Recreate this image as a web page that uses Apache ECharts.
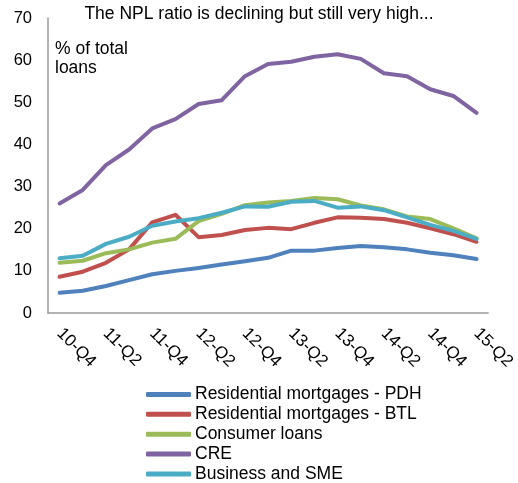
<!DOCTYPE html>
<html>
<head>
<meta charset="utf-8">
<script src="https://cdn.jsdelivr.net/npm/echarts@6/dist/echarts.min.js"></script>
<style>
  html, body { margin: 0; padding: 0; background: #fff; }
  #chart { width: 518px; height: 483px; }
</style>
</head>
<body>
<div id="chart"></div>
<script>
// Quarterly NPL ratios by loan type, % of total loans
const quarters = ['10-Q4','11-Q1','11-Q2','11-Q3','11-Q4','12-Q1','12-Q2','12-Q3','12-Q4','13-Q1',
                  '13-Q2','13-Q3','13-Q4','14-Q1','14-Q2','14-Q3','14-Q4','15-Q1','15-Q2'];
const residentialPDH = [4.8, 5.3, 6.4, 7.8, 9.2, 10.0, 10.7, 11.5, 12.3, 13.1, 14.8, 14.8, 15.4, 15.9, 15.6, 15.1, 14.3, 13.7, 12.8];
const residentialBTL = [8.6, 9.8, 11.9, 15.1, 21.5, 23.3, 18.0, 18.5, 19.7, 20.2, 19.9, 21.4, 22.7, 22.6, 22.3, 21.4, 20.1, 18.7, 16.9];
const consumerLoans  = [11.9, 12.4, 14.2, 15.1, 16.7, 17.6, 21.8, 23.5, 25.6, 26.2, 26.6, 27.3, 27.0, 25.5, 24.6, 22.9, 22.3, 20.1, 17.7];
const cre            = [26.0, 29.2, 35.1, 38.8, 43.8, 46.0, 49.6, 50.5, 56.2, 59.1, 59.6, 60.8, 61.4, 60.3, 56.9, 56.2, 53.1, 51.5, 47.5];
const businessSME    = [13.0, 13.6, 16.4, 18.1, 20.7, 21.7, 22.5, 23.8, 25.3, 25.2, 26.4, 26.6, 25.0, 25.3, 24.4, 22.7, 20.9, 19.5, 17.6];

const seriesDefs = [
  { name: 'Residential mortgages - PDH', data: residentialPDH, color: '#4F81BD' },
  { name: 'Residential mortgages - BTL', data: residentialBTL, color: '#C0504D' },
  { name: 'Consumer loans', data: consumerLoans, color: '#9BBB59' },
  { name: 'CRE', data: cre, color: '#8064A2' },
  { name: 'Business and SME', data: businessSME, color: '#4BACC6' }
];

const font = 'Liberation Sans, Arial, sans-serif';
const chart = echarts.init(document.getElementById('chart'));
chart.setOption({
  animation: false,
  title: {
    text: 'The NPL ratio is declining but still very high...',
    left: 'center',
    top: 5,
    padding: 0,
    textStyle: { fontFamily: font, fontSize: 17.5, fontWeight: 'normal', color: '#000' }
  },
  graphic: [{
    type: 'text',
    left: 55,
    top: 40,
    style: { text: '% of total\nloans', font: '17.5px ' + font, fill: '#000', lineHeight: 19 }
  }],
  grid: { left: 48, right: 26, top: 18, bottom: 170, containLabel: false },
  legend: {
    orient: 'vertical',
    left: 146,
    top: 385.5,
    width: 360,
    height: 160,
    padding: 0,
    icon: 'roundRect',
    itemWidth: 45,
    itemHeight: 5,
    itemGap: 1.85,
    textStyle: { fontFamily: font, fontSize: 17.5, lineHeight: 17, color: '#000', padding: [0, 0, 0, -1] },
    data: seriesDefs.map(s => s.name)
  },
  xAxis: {
    type: 'category',
    data: quarters,
    boundaryGap: true,
    axisLine: { lineStyle: { color: '#999', width: 1.5 } },
    axisTick: { show: false },
    axisLabel: {
      interval: 1,
      rotate: -45,
      margin: 18,
      fontFamily: font,
      fontSize: 17,
      color: '#000'
    }
  },
  yAxis: {
    type: 'value',
    min: 0,
    max: 70,
    interval: 10,
    axisLine: { show: true, lineStyle: { color: '#999', width: 1.5 } },
    axisTick: { show: false },
    splitLine: { show: false },
    axisLabel: { margin: 16, fontFamily: font, fontSize: 16.5, color: '#000' }
  },
  series: seriesDefs.map(s => ({
    name: s.name,
    type: 'line',
    data: s.data,
    symbol: 'none',
    color: s.color,
    lineStyle: { width: 4, color: s.color, cap: 'round', join: 'round' },
    itemStyle: { color: s.color }
  }))
});
</script>
</body>
</html>
